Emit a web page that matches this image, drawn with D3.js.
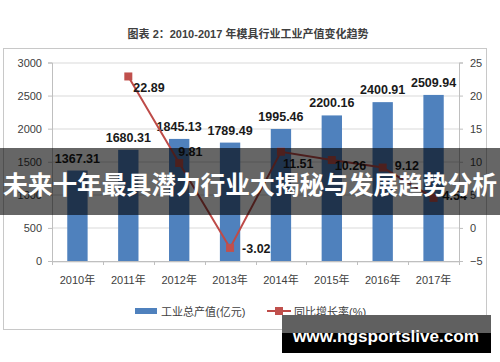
<!DOCTYPE html>
<html>
<head>
<meta charset="utf-8">
<script src="https://cdn.jsdelivr.net/npm/d3@7"></script>
<style>
  body { margin: 0; background: #fff; }
  svg { display: block; }
  text { font-family: "Liberation Sans", "Noto Sans CJK SC", sans-serif; }
</style>
</head>
<body>
<div id="chart"></div>
<script>
// chart data
var years = ["2010年", "2011年", "2012年", "2013年", "2014年", "2015年", "2016年", "2017年"];
var output = [1367.31, 1680.31, 1845.13, 1789.49, 1995.46, 2200.16, 2400.91, 2509.94];
var growth = [null, 22.89, 9.81, -3.02, 11.51, 10.26, 9.12, 4.54];
var leftTicks = [0, 500, 1000, 1500, 2000, 2500, 3000];
var rightTicks = [-5, 0, 5, 10, 15, 20, 25];
// where each growth label sits relative to its point
var growthLabelOffsets = [null, [5, 16], [-1, -7], [12, 5], [2, 16], [3, 10], [12, 2], [9, 2]];

var W = 500, H = 362;
var margin = {top: 62.5, right: 41, bottom: 101, left: 52};
var width = W - margin.left - margin.right,
    height = H - margin.top - margin.bottom;

var svg = d3.select("#chart").append("svg")
    .attr("width", W).attr("height", H);

// title
svg.append("text")
    .attr("x", 248).attr("y", 37.5)
    .attr("text-anchor", "middle")
    .style("font-size", "11px").style("font-weight", "bold")
    .attr("fill", "#404040")
    .text("图表 2：2010-2017 年模具行业工业产值变化趋势");

// outer frame
svg.append("rect")
    .attr("x", 3.5).attr("y", 48.5).attr("width", 483).attr("height", 281)
    .attr("fill", "none").attr("stroke", "#c8c8c8");

var g = svg.append("g")
    .attr("transform", "translate(" + margin.left + "," + margin.top + ")");

var x = d3.scaleBand().domain(years).range([0, width]).paddingInner(0.6).paddingOuter(0.3);
var xc = d3.scaleBand().domain(years).range([0, width]);
var yL = d3.scaleLinear().domain([0, 3000]).range([height, 0]);
var yR = d3.scaleLinear().domain([-5, 25]).range([height, 0]);

// gridlines
g.selectAll(".grid").data(leftTicks).enter().append("line")
    .attr("x1", 0).attr("x2", width)
    .attr("y1", function(d) { return Math.round(yL(d)) + 0.5; })
    .attr("y2", function(d) { return Math.round(yL(d)) + 0.5; })
    .attr("stroke", "#d9d9d9");

// left axis
var axL = g.append("g")
    .call(d3.axisLeft(yL).tickValues(leftTicks).tickFormat(d3.format("d")).tickSize(4).tickPadding(6));
axL.select(".domain").attr("stroke", "#bfbfbf");
axL.selectAll(".tick line").attr("stroke", "#bfbfbf");
axL.selectAll("text").style("font-size", "11px").attr("fill", "#404040");

// right axis
var axR = g.append("g").attr("transform", "translate(" + width + ",0)")
    .call(d3.axisRight(yR).tickValues(rightTicks).tickSize(4).tickPadding(7));
axR.select(".domain").attr("stroke", "#bfbfbf");
axR.selectAll(".tick line").attr("stroke", "#bfbfbf");
axR.selectAll("text").style("font-size", "11px").attr("fill", "#404040");

// bottom axis: ticks at category boundaries
var axB = g.append("g").attr("transform", "translate(0," + height + ")")
    .call(d3.axisBottom(xc).tickSize(0).tickPadding(15));
axB.select(".domain").attr("stroke", "#bfbfbf");
axB.selectAll("text").style("font-size", "11px").attr("fill", "#404040");
g.selectAll(".btick").data(d3.range(years.length + 1)).enter().append("line")
    .attr("x1", function(i) { return Math.round(i * xc.step()) + 0.5; })
    .attr("x2", function(i) { return Math.round(i * xc.step()) + 0.5; })
    .attr("y1", height).attr("y2", height + 4)
    .attr("stroke", "#bfbfbf");

// bars
g.selectAll(".bar").data(output).enter().append("rect")
    .attr("x", function(d, i) { return x(years[i]); })
    .attr("width", x.bandwidth())
    .attr("y", function(d) { return yL(d); })
    .attr("height", function(d) { return height - yL(d); })
    .attr("fill", "#4f81bd");

g.selectAll(".blabel").data(output).enter().append("text")
    .attr("x", function(d, i) { return xc(years[i]) + xc.bandwidth() / 2; })
    .attr("y", function(d) { return yL(d) - 8; })
    .attr("text-anchor", "middle")
    .style("font-size", "12.5px").style("font-weight", "bold")
    .attr("fill", "#1a1a1a")
    .text(function(d) { return d.toFixed(2); });

// growth line
var pts = growth.map(function(v, i) { return {v: v, i: i}; }).filter(function(p) { return p.v !== null; });
var line = d3.line()
    .x(function(p) { return xc(years[p.i]) + xc.bandwidth() / 2; })
    .y(function(p) { return yR(p.v); });

g.append("path").datum(pts)
    .attr("d", line)
    .attr("fill", "none").attr("stroke", "#be4b48").attr("stroke-width", 2);

g.selectAll(".mk").data(pts).enter().append("rect")
    .attr("x", function(p) { return xc(years[p.i]) + xc.bandwidth() / 2 - 4; })
    .attr("y", function(p) { return yR(p.v) - 4; })
    .attr("width", 8).attr("height", 8)
    .attr("fill", "#c0504d");

g.selectAll(".glabel").data(pts).enter().append("text")
    .attr("x", function(p) { return xc(years[p.i]) + xc.bandwidth() / 2 + growthLabelOffsets[p.i][0]; })
    .attr("y", function(p) { return yR(p.v) + growthLabelOffsets[p.i][1]; })
    .style("font-size", "12.5px").style("font-weight", "bold")
    .attr("fill", "#1a1a1a")
    .text(function(p) { return p.v.toFixed(2); });

// legend
var lg = svg.append("g");
lg.append("rect").attr("x", 135).attr("y", 308).attr("width", 22).attr("height", 6).attr("fill", "#4f81bd");
lg.append("text").attr("x", 161).attr("y", 315.5).style("font-size", "11px").attr("fill", "#404040")
    .text("工业总产值(亿元)");
lg.append("line").attr("x1", 267).attr("x2", 291).attr("y1", 311).attr("y2", 311)
    .attr("stroke", "#be4b48").attr("stroke-width", 2);
lg.append("rect").attr("x", 275).attr("y", 307).attr("width", 8).attr("height", 8).attr("fill", "#c0504d");
lg.append("text").attr("x", 294).attr("y", 315.5).style("font-size", "11px").attr("fill", "#404040")
    .text("同比增长率(%)");

// banner overlay
svg.append("rect").attr("x", 0).attr("y", 148).attr("width", W).attr("height", 67)
    .attr("fill", "#000").attr("fill-opacity", 0.6);
svg.append("text")
    .attr("x", 250).attr("y", 194)
    .attr("text-anchor", "middle")
    .attr("textLength", 494).attr("lengthAdjust", "spacingAndGlyphs")
    .style("font-family", "'Noto Sans CJK SC', sans-serif")
    .style("font-size", "25px").style("font-weight", "bold")
    .attr("fill", "#fff")
    .text("未来十年最具潜力行业大揭秘与发展趋势分析");

// site stamp
svg.append("rect").attr("x", 282).attr("y", 315).attr("width", 209).attr("height", 38).attr("fill", "#000");
svg.append("rect").attr("x", 282).attr("y", 315).attr("width", 209).attr("height", 18).attr("fill", "#606060");
svg.append("text")
    .attr("x", 386).attr("y", 342)
    .attr("text-anchor", "middle")
    .attr("textLength", 186).attr("lengthAdjust", "spacingAndGlyphs")
    .style("font-size", "17px").style("font-weight", "bold")
    .attr("fill", "#fff")
    .text("www.ngsportslive.com");
</script>
</body>
</html>
